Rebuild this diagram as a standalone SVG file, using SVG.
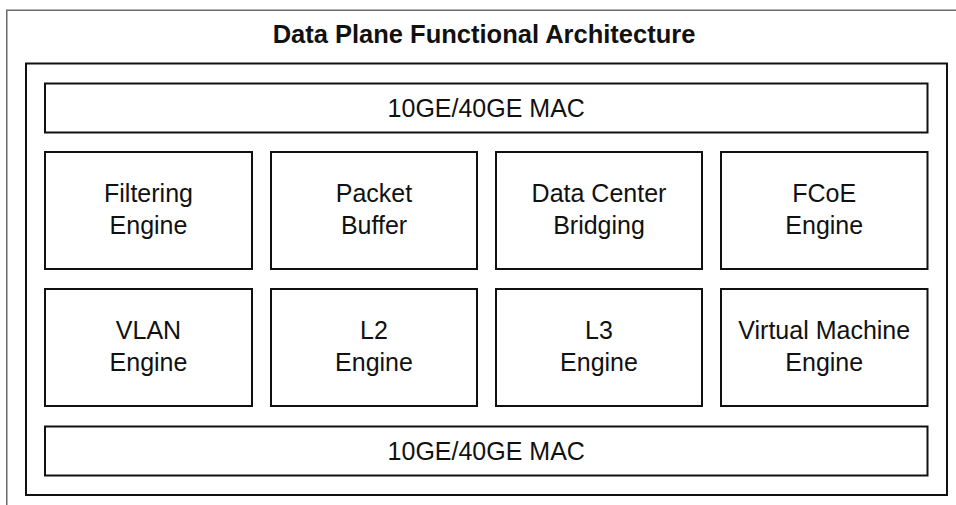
<svg xmlns="http://www.w3.org/2000/svg" width="956" height="505" viewBox="0 0 956 505">
  <style>
    .frame { fill: none; stroke: #6a6a6a; stroke-width: 1.5; }
    .box { fill: #ffffff; stroke: #111111; stroke-width: 2; }
    .title { font-family: "Liberation Sans", Arial, sans-serif; font-weight: bold; font-size: 25.5px; fill: #111111; text-anchor: middle; }
    .label { font-family: "Liberation Sans", Arial, sans-serif; font-size: 25px; fill: #111111; text-anchor: middle; }
  </style>
  <rect width="956" height="505" fill="#ffffff"/>

  <!-- open outer frame: top and left edges only -->
  <path class="frame" d="M6.75,505 V10.25 H956"/>

  <text class="title" x="484" y="43">Data Plane Functional Architecture</text>

  <!-- inner container -->
  <rect class="box" x="26" y="63.5" width="921" height="431.5"/>

  <g id="mac-top">
    <rect class="box" x="45" y="83.5" width="882.5" height="49"/>
    <text class="label" x="486.25" y="116.5">10GE/40GE MAC</text>
  </g>

  <g id="filtering-engine">
    <rect class="box" x="45" y="152" width="207" height="117"/>
    <text class="label" x="148.5" y="201.5">Filtering</text>
    <text class="label" x="148.5" y="233.5">Engine</text>
  </g>
  <g id="packet-buffer">
    <rect class="box" x="271" y="152" width="206" height="117"/>
    <text class="label" x="374" y="201.5">Packet</text>
    <text class="label" x="374" y="233.5">Buffer</text>
  </g>
  <g id="data-center-bridging">
    <rect class="box" x="496" y="152" width="206" height="117"/>
    <text class="label" x="599" y="201.5">Data Center</text>
    <text class="label" x="599" y="233.5">Bridging</text>
  </g>
  <g id="fcoe-engine">
    <rect class="box" x="721" y="152" width="206.5" height="117"/>
    <text class="label" x="824.25" y="201.5">FCoE</text>
    <text class="label" x="824.25" y="233.5">Engine</text>
  </g>

  <g id="vlan-engine">
    <rect class="box" x="45" y="289" width="207" height="117"/>
    <text class="label" x="148.5" y="338.5">VLAN</text>
    <text class="label" x="148.5" y="370.5">Engine</text>
  </g>
  <g id="l2-engine">
    <rect class="box" x="271" y="289" width="206" height="117"/>
    <text class="label" x="374" y="338.5">L2</text>
    <text class="label" x="374" y="370.5">Engine</text>
  </g>
  <g id="l3-engine">
    <rect class="box" x="496" y="289" width="206" height="117"/>
    <text class="label" x="599" y="338.5">L3</text>
    <text class="label" x="599" y="370.5">Engine</text>
  </g>
  <g id="virtual-machine-engine">
    <rect class="box" x="721" y="289" width="206.5" height="117"/>
    <text class="label" x="824.25" y="338.5">Virtual Machine</text>
    <text class="label" x="824.25" y="370.5">Engine</text>
  </g>

  <g id="mac-bottom">
    <rect class="box" x="45" y="426.5" width="882.5" height="49"/>
    <text class="label" x="486.25" y="459.5">10GE/40GE MAC</text>
  </g>

  <g id="connectors"/>
</svg>
